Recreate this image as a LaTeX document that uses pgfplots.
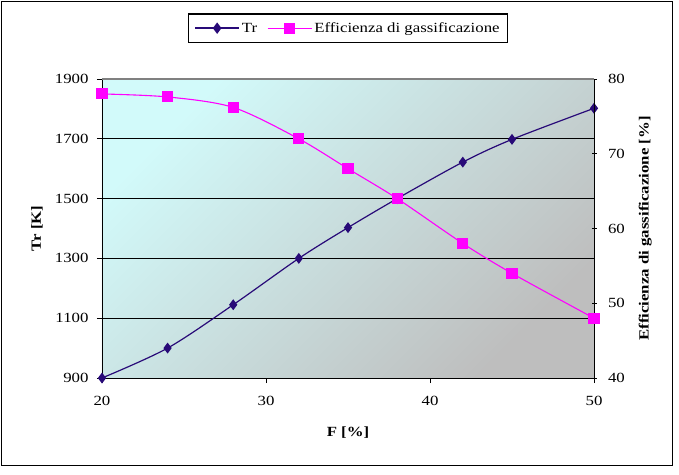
\documentclass[border=0pt]{standalone}
\usepackage{pgfplots}
\pgfplotsset{compat=1.18}
\usepackage{fontspec}
\setmainfont{Liberation Serif}[FakeStretch=1.2]
\definecolor{trcol}{RGB}{40,10,120}
\definecolor{effcol}{RGB}{255,0,255}
\definecolor{bgtl}{RGB}{210,250,250}
\definecolor{bgbr}{RGB}{190,190,190}
\newcommand{\fs}{\fontsize{14}{16}\selectfont}
\begin{document}
\begin{tikzpicture}
\pgfplotsset{
  common/.style={
    scale only axis, width=492pt, height=299pt,
    xmin=20, xmax=50,
    /pgf/number format/assume math mode=true,
    /pgf/number format/1000 sep={},
    tick label style={font=\fs},
    major tick length=5pt,
    tick style={black, line width=0.8pt},
  }
}
\begin{axis}[common,
  axis x line*=bottom, axis y line*=left,
  axis line style={black, line width=0.8pt},
  ymin=900, ymax=1900,
  ytick={900,1100,1300,1500,1700,1900},
  xtick={20,30,40,50},
  tick align=outside,
  ymajorgrids, major grid style={black, line width=0.8pt},
  axis background/.style={top color=bgtl, bottom color=bgbr, shading angle=45},
  xlabel={F [\%]}, ylabel={Tr [K]},
  every axis x label/.style={at={(axis description cs:0.5,-0.184)}, anchor=center, font=\bfseries\fs},
  every axis y label/.style={at={(axis description cs:-0.132,0.5)}, anchor=center, rotate=90, font=\bfseries\fs},
  xticklabel style={yshift=-10pt},
  yticklabel style={xshift=-5pt},
]
\addplot[trcol, line width=1.2pt, smooth, tension=0.5, mark=diamond*, mark size=4.5pt, mark options={solid, fill=trcol}]
 coordinates {(20,900) (24,1000) (28,1145) (32,1300) (35,1403) (38,1500) (42,1622) (45,1698) (50,1802)};
\end{axis}
\begin{axis}[common,
  axis y line*=right, axis x line=none,
  axis line style={black, line width=0.8pt},
  ymin=40, ymax=80, ytick={40,50,60,70,80},
  tick align=center,
  ylabel={Efficienza di gassificazione [\%]},
  every axis y label/.style={at={(axis description cs:1.104,0.5)}, anchor=center, rotate=90, font=\bfseries\fs},
  yticklabel style={xshift=8pt},
  legend columns=2,
  legend style={at={(axis description cs:0.5,1)}, anchor=south, yshift=36pt,
    draw=black, line width=1.3pt, fill=white, font=\fs, inner xsep=6pt, inner ysep=6.5pt,
    /tikz/every even column/.append style={column sep=8pt}},
  legend image code/.code={\draw[mark repeat=2, mark phase=2] plot coordinates {(0pt,0pt) (22pt,0pt) (44pt,0pt)};},
]
\draw[gray, line width=1.8pt] (rel axis cs:0,1) -- (rel axis cs:1,1);
\addlegendimage{trcol, line width=1.5pt, mark=diamond*, mark size=4.5pt, mark options={solid, fill=trcol}}
\addlegendentry{Tr}
\addplot[effcol, line width=1.1pt, smooth, tension=0.5, mark=square*, mark size=5pt, mark options={solid, fill=effcol}]
 coordinates {(20,78) (24,77.6) (28,76.2) (32,72) (35,68) (38,64) (42,58) (45,54) (50,48)};
\addlegendentry{Efficienza di gassificazione}
\end{axis}
\draw[black, line width=1pt] (-100pt,-87pt) rectangle (570pt,376pt);
\path (-102pt,-96pt) rectangle (577pt,378pt);
\end{tikzpicture}
\end{document}
